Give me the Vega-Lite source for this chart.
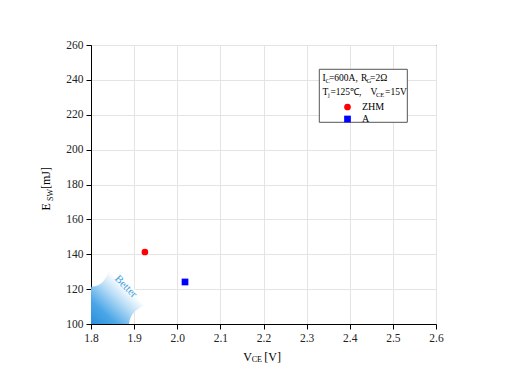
{
  "$schema": "https://vega.github.io/schema/vega-lite/v6.json",
  "width": 345,
  "height": 279,
  "autosize": "none",
  "padding": {"left": 91, "top": 45, "right": 71, "bottom": 65},
  "background": "#ffffff",
  "config": {
    "font": "Liberation Serif",
    "view": {"stroke": "#000000", "strokeWidth": 1},
    "axis": {
      "labelFont": "Liberation Serif",
      "labelFontSize": 11.5,
      "labelColor": "#222222",
      "tickColor": "#000000",
      "tickSize": 5,
      "domainColor": "#000000",
      "gridColor": "#e4e4e4",
      "gridWidth": 1,
      "labelPadding": 3,
      "labelOverlap": false,
      "labelFlush": false,
      "title": null
    },
    "legend": {"labelFont": "Liberation Serif"}
  },
  "datasets": {
    "devices": [
      {"device": "ZHM", "x": 1.925, "y": 141.3},
      {"device": "A", "x": 2.018, "y": 124.1}
    ],
    "box": [{"x": 2.3294, "x2": 2.5335, "y": 215.67, "y2": 246.07}],
    "arrow": [{"x": 1.8696, "y": 117.2}],
    "better": [{"x": 1.8807, "y": 121.39, "label": "Better"}],
    "condMain": [
      {"x": 2.3368, "y": 240.9, "label": "I"},
      {"x": 2.3519, "y": 240.9, "label": "=600A,"},
      {"x": 2.4261, "y": 240.9, "label": "R"},
      {"x": 2.447, "y": 240.9, "label": "=2Ω"},
      {"x": 2.3368, "y": 232.88, "label": "T"},
      {"x": 2.3554, "y": 232.88, "label": "=125℃,"},
      {"x": 2.4481, "y": 232.88, "label": "V"},
      {"x": 2.4818, "y": 232.88, "label": "=15V"}
    ],
    "condSub": [
      {"x": 2.3438, "y": 239.53, "label": "C"},
      {"x": 2.4388, "y": 239.53, "label": "G"},
      {"x": 2.3496, "y": 231.5, "label": "j"},
      {"x": 2.4609, "y": 231.5, "label": "CE"}
    ],
    "xTitleMain": [
      {"x": 2.1532, "y": 81.25, "label": "V"},
      {"x": 2.2019, "y": 81.25, "label": "[V]"}
    ],
    "xTitleSub": [{"x": 2.1726, "y": 79.18, "label": "CE"}],
    "yTitleMain": [
      {"x": 1.6945, "y": 165.09, "label": "E"},
      {"x": 1.6945, "y": 177.4, "label": "[mJ]"}
    ],
    "yTitleSub": [{"x": 1.7061, "y": 170.6, "label": "SW"}]
  },
  "encoding": {
    "x": {"field": "x", "type": "quantitative", "scale": {"domain": [1.8, 2.6], "nice": false, "zero": false},
          "axis": {"values": [1.8, 1.9, 2.0, 2.1, 2.2, 2.3, 2.4, 2.5, 2.6], "format": ".1f", "grid": true, "labelOverlap": false}},
    "y": {"field": "y", "type": "quantitative", "scale": {"domain": [100, 260], "nice": false, "zero": false},
          "axis": {"values": [100, 120, 140, 160, 180, 200, 220, 240, 260], "format": "d", "grid": true, "labelOverlap": false}}
  },
  "layer": [
    {
      "data": {"name": "box"},
      "mark": {"type": "rect", "fill": "#ffffff", "stroke": "#555555", "strokeWidth": 1},
      "encoding": {
        "x2": {"field": "x2"},
        "y2": {"field": "y2"}
      }
    },
    {
      "data": {"name": "arrow"},
      "mark": {
        "type": "point",
        "shape": "M -0.9 0.9 L -0.74 -0.18 Q -0.33 -0.2 -0.275 -0.8 Q 0.12 -0.12 0.9 0.2 Q 0.2 0.33 0.2 0.78 Z",
        "size": 6400,
        "filled": true,
        "opacity": 1,
        "strokeWidth": 0,
        "clip": true,
        "fill": {
          "gradient": "linear", "x1": 0, "y1": 1, "x2": 1, "y2": 0,
          "stops": [
            {"offset": 0, "color": "#1a82d8"},
            {"offset": 0.26, "color": "#4aa6e6"},
            {"offset": 0.45, "color": "#b5dbf6"},
            {"offset": 0.6, "color": "#ffffff"}
          ]
        }
      },
      "encoding": {}
    },
    {
      "data": {"name": "better"},
      "mark": {"type": "text", "angle": 45, "fontSize": 11, "color": "#3d9fe2", "align": "center", "baseline": "middle", "font": "Liberation Serif"},
      "encoding": {"text": {"field": "label"}}
    },
    {
      "data": {"name": "devices"},
      "mark": {"type": "point", "filled": true, "opacity": 1, "size": 45},
      "encoding": {
        "color": {
          "field": "device", "type": "nominal",
          "scale": {"domain": ["ZHM", "A"], "range": ["#ff0000", "#0000ff"]},
          "legend": {"orient": "none", "legendX": 251.5, "legendY": 57, "title": null, "padding": 0,
                     "labelFont": "Liberation Serif", "labelFontSize": 10, "labelColor": "#000000",
                     "labelOffset": 9.5, "rowPadding": 2, "symbolSize": 45, "symbolStrokeWidth": 0}
        },
        "shape": {
          "field": "device", "type": "nominal",
          "scale": {"domain": ["ZHM", "A"], "range": ["circle", "square"]},
          "legend": {"orient": "none", "legendX": 251.5, "legendY": 57, "title": null, "padding": 0,
                     "labelFont": "Liberation Serif", "labelFontSize": 10, "labelColor": "#000000",
                     "labelOffset": 9.5, "rowPadding": 2, "symbolSize": 45, "symbolStrokeWidth": 0}
        }
      }
    },
    {
      "data": {"name": "condMain"},
      "mark": {"type": "text", "fontSize": 9.5, "align": "left", "baseline": "middle", "color": "#000000"},
      "encoding": {"text": {"field": "label"}}
    },
    {
      "data": {"name": "condSub"},
      "mark": {"type": "text", "fontSize": 6.5, "align": "left", "baseline": "middle", "color": "#000000"},
      "encoding": {"text": {"field": "label"}}
    },
    {
      "data": {"name": "xTitleMain"},
      "mark": {"type": "text", "fontSize": 12, "align": "left", "baseline": "middle", "color": "#000000"},
      "encoding": {"text": {"field": "label"}}
    },
    {
      "data": {"name": "xTitleSub"},
      "mark": {"type": "text", "fontSize": 8, "align": "left", "baseline": "middle", "color": "#000000"},
      "encoding": {"text": {"field": "label"}}
    },
    {
      "data": {"name": "yTitleMain"},
      "mark": {"type": "text", "fontSize": 12, "angle": 270, "align": "left", "baseline": "middle", "color": "#000000"},
      "encoding": {"text": {"field": "label"}}
    },
    {
      "data": {"name": "yTitleSub"},
      "mark": {"type": "text", "fontSize": 8, "angle": 270, "align": "left", "baseline": "middle", "color": "#000000"},
      "encoding": {"text": {"field": "label"}}
    }
  ]
}
